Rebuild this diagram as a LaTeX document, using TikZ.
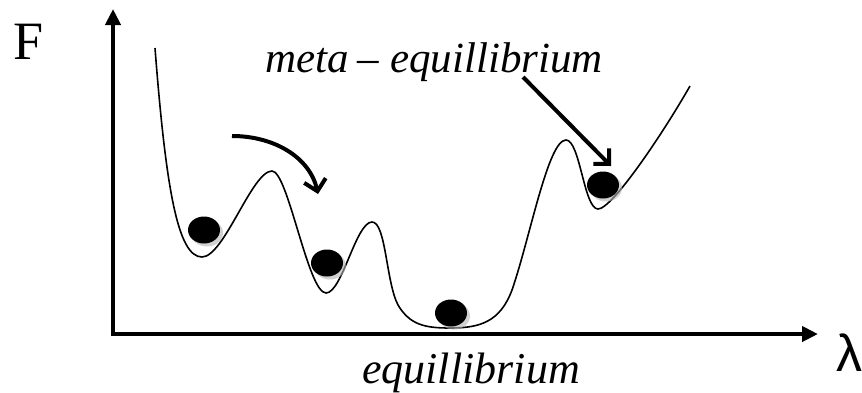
\documentclass[tikz,border=0pt]{standalone}
\usepackage{fontspec}
\setmainfont{Liberation Serif}[ItalicFont={Liberation Serif Italic},BoldFont={Liberation Serif Bold}]
\newfontfamily\lamfont{Liberation Sans}
\usetikzlibrary{arrows.meta,shapes.geometric}
\begin{document}
\begin{tikzpicture}[x=1pt,y=-1pt,
  axis/.style={line width=4pt,-{Triangle[length=16pt,width=15pt]}},
  pointer/.style={line width=4pt,-{Straight Barb[length=11pt,width=22pt,line width=4pt]}},
  ball/.style={ellipse,fill=black,minimum width=32pt,minimum height=27pt,inner sep=0pt},
  shade/.style={ellipse,fill=black!30,opacity=0.6,minimum width=32pt,minimum height=27pt,inner sep=0pt},
  lbl/.style={inner sep=0pt,anchor=base west}]
\useasboundingbox (0,0) rectangle (862,392);
% axes
\coordinate (O) at (113,334);
\coordinate (Ytop) at (113,9);
\coordinate (Xend) at (818,334);
\draw[axis] (O) -- (Ytop);
\draw[axis] ([xshift=-2pt]O) -- (Xend);
% labels
\node[lbl,font=\fontsize{54}{54}\selectfont] (F) at (13,59) {F};
\node[lbl,font=\fontsize{52}{52}\selectfont\lamfont] (lam) at (836,371) {λ};
\node[lbl,font=\fontsize{43}{43}\selectfont\itshape] (meta) at (265,72) {meta\hspace{9pt}\upshape{–}\hspace{11pt}\itshape equillibrium};
\node[lbl,font=\fontsize{44}{44}\selectfont\itshape] (eq) at (362,383) {equillibrium};
% energy landscape
\draw[line width=1.6pt,line join=round]
  (155,48) .. controls (166,190) and (178,257) .. (202,257)
  .. controls (224,257) and (252,171) .. (272,171)
  .. controls (288,171) and (308,293) .. (326,293)
  .. controls (342,293) and (356,222) .. (372,222)
  .. controls (386,222) and (386,282) .. (398,305)
  .. controls (410,325) and (425,328) .. (450,328)
  .. controls (480,328) and (500,322) .. (512,290)
  .. controls (530,238) and (548,140) .. (566,140)
  .. controls (580,140) and (584,209) .. (598,209)
  .. controls (612,209) and (662,135) .. (690,86);
% balls
\foreach \n/\x/\y in {b1/204/230, b2/327/263, b3/451/313, b4/603/185}{
  \node[shade] (\n s) at (\x+3,\y+3) {};
  \node[ball] (\n) at (\x,\y) {};
}
% pointers
\coordinate (c1) at (232,136);
\coordinate (c2) at (318,194);
\draw[pointer] (c1) .. controls (275,136) and (310,158) .. (c2);
\coordinate (s1) at (523,77);
\coordinate (s2) at (611,166);
\draw[pointer] (s1) -- (s2);
\end{tikzpicture}
\end{document}
